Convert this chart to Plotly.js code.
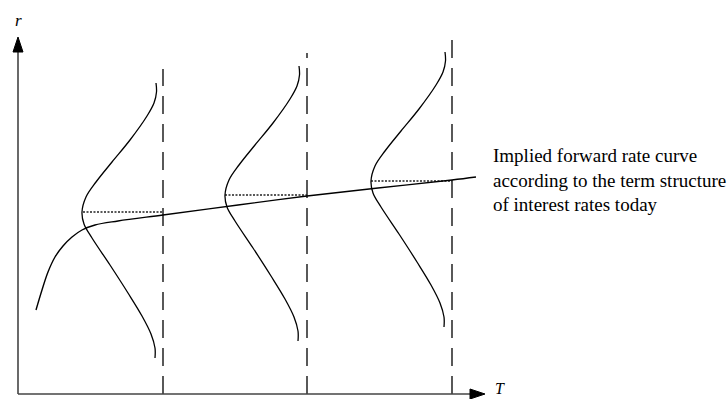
<!DOCTYPE html>
<html>
<head>
<meta charset="utf-8">
<script src="https://cdn.plot.ly/plotly-3.0.1.min.js"></script>
<style>html,body{margin:0;padding:0;background:#fff;}#chart{width:728px;height:399px;}</style>
</head>
<body>
<div id="chart"></div>
<script>
// Forward rate curve (T, r)
const fwdT = [18, 24, 30, 37, 45, 54, 64, 77, 100, 145, 220, 289, 360, 434, 458];
const fwdR = [84, 104, 122, 137, 148, 157, 164, 169, 173, 179, 189, 198, 206, 214, 217];

// Distribution of r at three future times (sideways density curves)
const dist1T = [138, 138.5, 136, 129, 112, 94, 78, 68, 64, 66, 74, 92, 110, 124, 133, 137, 137];
const dist1R = [311, 302, 291, 278, 254, 232, 212, 197, 182, 170, 156, 129, 101, 78, 60, 46, 36];
const dist2T = [281, 281.5, 279, 272, 255, 237, 221, 211, 207, 209, 217, 235, 253, 267, 276, 280, 280];
const dist2R = [328, 319, 308, 295, 271, 249, 229, 214, 199, 187, 173, 146, 118, 95, 77, 63, 53];
const dist3T = [427, 427.5, 425, 418, 401, 383, 367, 357, 353, 355, 363, 381, 399, 413, 422, 426, 426];
const dist3R = [342, 333, 322, 309, 285, 263, 243, 228, 213, 201, 187, 160, 132, 109, 91, 77, 67];

// Future times (dashed verticals) and their top ends
const timesT = [145, 289, 434];
const timesTop = [325, 341, 362];

// Modes of each distribution (dotted horizontals)
const modeR = [182, 199, 213];
const modeStartT = [65, 207, 353];
const modeEndT = [145, 289, 434];

// Axes
const axisYTop = 342, axisYTip = 357;
const axisXEnd = 452, axisXTip = 467;
const arrowHalf = 5;

const labelText = "Implied forward rate curve<br>according to the term structure<br>of interest rates today";

const traces = [];
const blk = '#000';

// dashed verticals
timesT.forEach((t, i) => {
  traces.push({x: [t, t], y: [0, timesTop[i]], mode: 'lines', line: {color: blk, width: 1.3, dash: '18px,10px'}, hoverinfo: 'skip'});
});
// dotted mode lines
modeR.forEach((r, i) => {
  traces.push({x: [modeStartT[i], modeEndT[i]], y: [r, r], mode: 'lines', line: {color: '#222', width: 1.3, dash: '2px,1.5px'}, hoverinfo: 'skip'});
});
// distributions
[[dist1T, dist1R], [dist2T, dist2R], [dist3T, dist3R]].forEach(d => {
  traces.push({x: d[0], y: d[1], mode: 'lines', line: {color: blk, width: 1.3, shape: 'spline', smoothing: 1}, hoverinfo: 'skip'});
});
// forward curve
traces.push({x: fwdT, y: fwdR, mode: 'lines', line: {color: blk, width: 1.4, shape: 'spline', smoothing: 1}, hoverinfo: 'skip'});
// axes
traces.push({x: [0, 0], y: [0, axisYTop], mode: 'lines', line: {color: '#444', width: 1.6}, hoverinfo: 'skip'});
traces.push({x: [0, axisXEnd], y: [0, 0], mode: 'lines', line: {color: '#444', width: 1.6}, hoverinfo: 'skip'});
// arrowheads
traces.push({x: [-arrowHalf, arrowHalf, 0, -arrowHalf], y: [axisYTop, axisYTop, axisYTip, axisYTop], mode: 'lines', fill: 'toself', fillcolor: blk, line: {color: blk, width: 1}, hoverinfo: 'skip'});
traces.push({x: [axisXEnd, axisXEnd, axisXTip, axisXEnd], y: [-arrowHalf, arrowHalf, 0, -arrowHalf], mode: 'lines', fill: 'toself', fillcolor: blk, line: {color: blk, width: 1}, hoverinfo: 'skip'});

const layout = {
  width: 728, height: 399,
  margin: {l: 8, r: 0, t: 0, b: 0},
  paper_bgcolor: '#fff', plot_bgcolor: '#fff',
  showlegend: false,
  xaxis: {range: [-10, 710], visible: false, fixedrange: true},
  yaxis: {range: [-5, 394], visible: false, fixedrange: true},
  annotations: [
    {x: 0, y: 374, xref: 'x', yref: 'y', text: '<i>r</i>', showarrow: false, xanchor: 'center', yanchor: 'middle', font: {family: 'Liberation Serif', size: 17, color: blk}},
    {x: 475, y: 6, xref: 'x', yref: 'y', text: '<i>T</i>', showarrow: false, xanchor: 'left', yanchor: 'middle', font: {family: 'Liberation Serif', size: 16, color: blk}},
    {x: 473, y: 251, xref: 'x', yref: 'y', text: labelText, showarrow: false, xanchor: 'left', yanchor: 'top', align: 'left', font: {family: 'Liberation Serif', size: 19, color: blk}}
  ]
};

Plotly.newPlot('chart', traces, layout, {staticPlot: true, displayModeBar: false});
</script>
</body>
</html>
